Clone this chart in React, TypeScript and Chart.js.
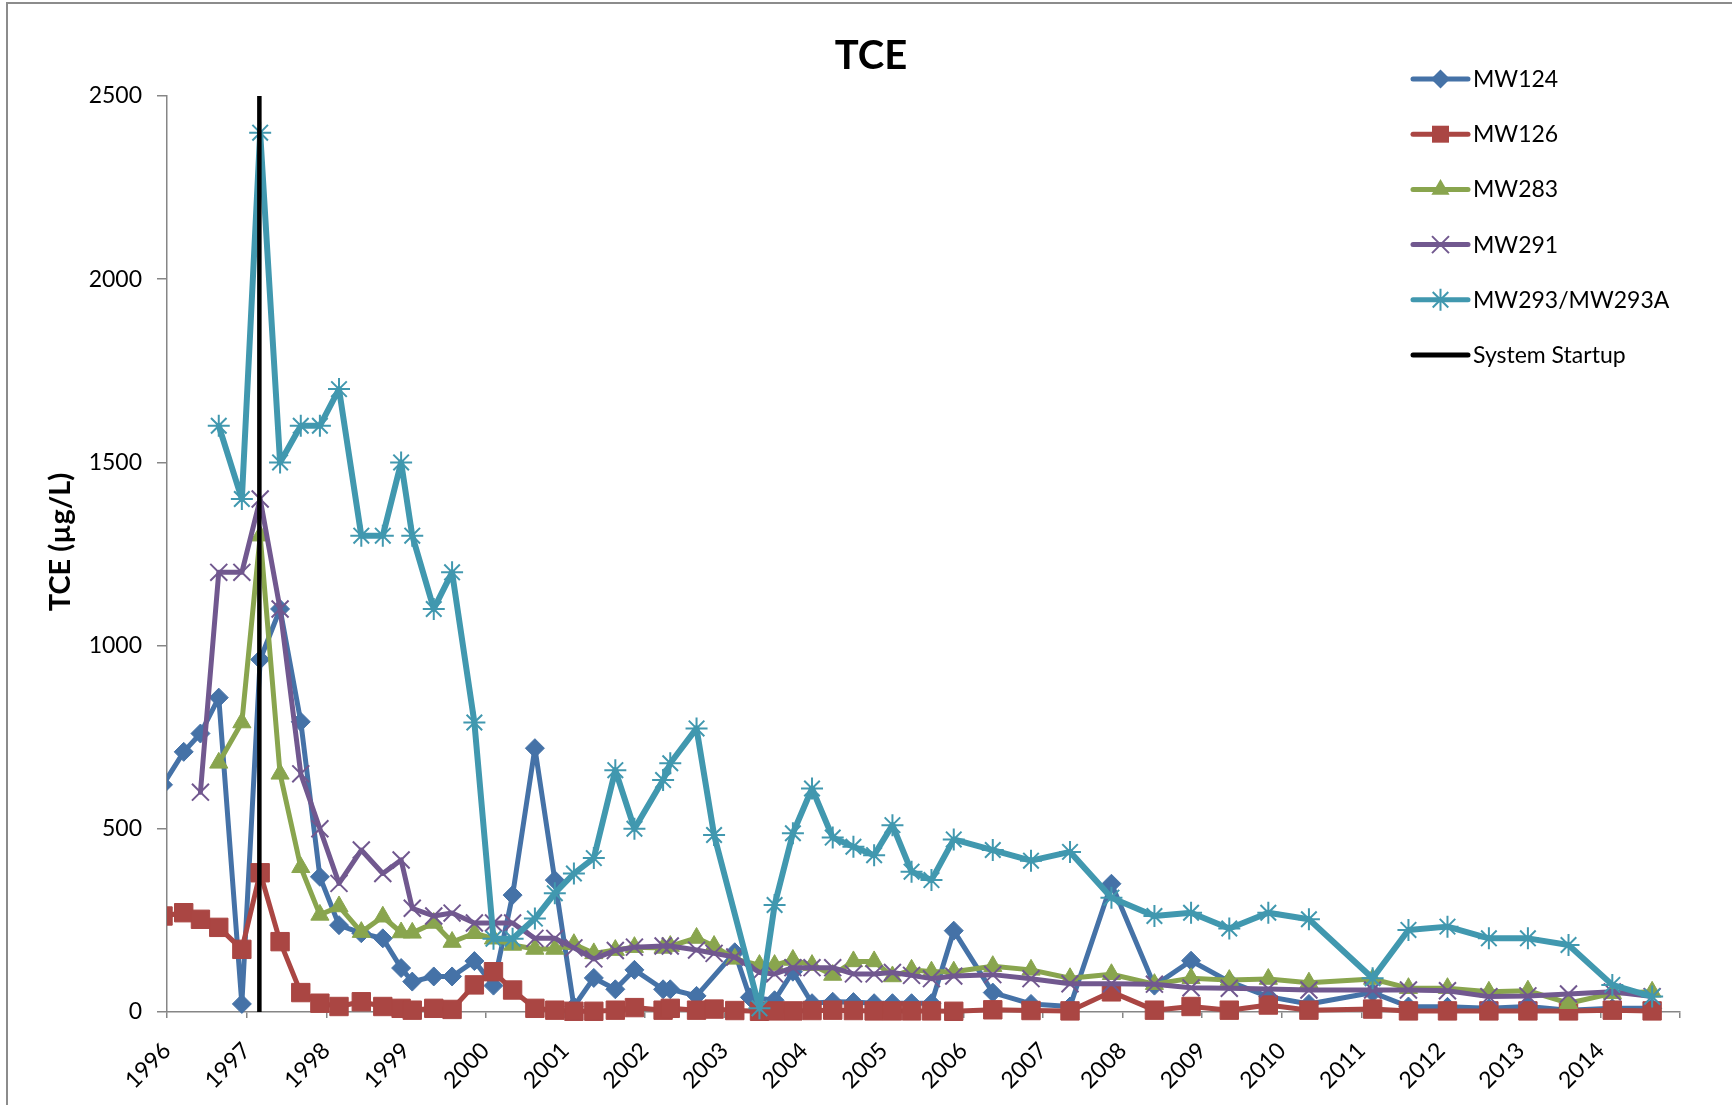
import React, { useEffect, useRef } from 'react';
import { Chart, registerables } from 'chart.js';

Chart.register(...registerables);

const FONT = 'Lato, "Open Sans", sans-serif';

// Sampling dates (decimal years)
const dates = [
  1995.95, 1996.21, 1996.42, 1996.65, 1996.94, 1997.17, 1997.42, 1997.68, 1997.92, 1998.16,
  1998.44, 1998.71, 1998.94, 1999.08, 1999.35, 1999.58, 1999.86, 2000.10, 2000.34, 2000.62,
  2000.87, 2001.11, 2001.36, 2001.63, 2001.87, 2002.23, 2002.32, 2002.65, 2002.87, 2003.13,
  2003.32, 2003.44, 2003.63, 2003.86, 2004.10, 2004.36, 2004.62, 2004.88, 2005.11, 2005.35,
  2005.60, 2005.88, 2006.37, 2006.85, 2007.34, 2007.86, 2008.40, 2008.86, 2009.34, 2009.83,
  2010.34, 2011.14, 2011.59, 2012.08, 2012.60, 2013.09, 2013.60, 2014.15, 2014.65,
];

const mw124 = [
  620, 710, 760, 858, 22, 962, 1100, 792, 369, 237,
  215, 201, 120, 83, 97, 97, 139, 72, 319, 720,
  360, 15, 93, 62, 115, 62, 62, 44, null, 163,
  40, null, 32, 110, 24, 28, 27, 24, 24, 24,
  24, 222, 53, 22, 15, 350, 72, 140, 83, 42,
  22, 53, 15, 14, 10, 15, 5, 10, 10,
];

const mw126 = [
  262, 271, 253, 231, 171, 380, 192, 53, 24, 15,
  28, 15, 10, 5, 10, 7, 74, 110, 60, 10,
  5, 2, 2, 5, 12, 5, 10, 5, 8, 4,
  null, 2, 3, 3, 4, 5, 4, 3, 3, 3,
  3, 2, 6, 4, 3, 55, 5, 15, 5, 19,
  5, 8, 3, 3, 3, 3, 3, 5, 3,
];

const mw283 = [
  null, null, null, 680, 790, 1300, 650, 395, 265, 288,
  218, 260, 217, 216, 243, 191, 215, 200, 183, 172,
  172, 185, 160, 169, 177, 175, 180, 202, 180, 145,
  null, 128, 128, 142, 128, 101, 138, 138, 97, 115,
  110, 110, 125, 115, 92, 103, 76, 92, 87, 90,
  80, 90, 65, 65, 55, 58, 24, 51, 55,
];

const mw291 = [
  null, null, 600, 1200, 1200, 1400, 1100, 650, 500, 351,
  442, 378, 415, 283, 262, 270, 243, 243, 243, 201,
  201, 175, 145, 168, 177, 180, 180, 169, 160, 150,
  null, 108, 104, 121, 121, 121, 104, 104, 108, 100,
  91, 98, 102, 91, 77, 77, 76, 66, 65, 63,
  60, 60, 60, 58, 42, 44, 49, 55, 42,
];

const mw293 = [
  null, null, null, 1600, 1400, 2400, 1500, 1600, 1600, 1700,
  1300, 1300, 1500, 1300, 1100, 1200, 790, 200, 200, 255,
  324, 378, 420, 660, 500, 633, 679, 774, 483, null,
  null, 10, 292, 488, 610, 476, 451, 428, 510, 383,
  360, 471, 442, 413, 437, 312, 262, 271, 228, 271,
  253, 92, 224, 233, 201, 201, 183, 74, 42,
];

const seriesNames = ['MW124', 'MW126', 'MW283', 'MW291', 'MW293/MW293A'];
const seriesColors = ['#4572A7', '#AA4643', '#89A54E', '#71588F', '#4198AF'];
const seriesMarkers = ['rectRot', 'rect', 'triangle', 'crossRot', 'star'];
const markerRadii = [9.5, 13, 10.5, 12, 11];
const lineWidths = [5, 5, 5, 5, 6];

const startupLabel = 'System Startup';
const startupDate = 1997.16;

const chartTitle = 'TCE';
const yAxisTitle = 'TCE (µg/L)';

const xMin = 1996;
const xMax = 2015;
const yMin = 0;
const yMax = 2500;
const yStep = 500;
const xTickLabels = [
  '1996', '1997', '1998', '1999', '2000', '2001', '2002', '2003', '2004', '2005',
  '2006', '2007', '2008', '2009', '2010', '2011', '2012', '2013', '2014',
];

function drawMarker(ctx: CanvasRenderingContext2D, style: string, x: number, y: number, r: number, color: string) {
  ctx.save();
  ctx.fillStyle = color;
  ctx.strokeStyle = color;
  ctx.lineWidth = 2;
  ctx.beginPath();
  if (style === 'rectRot') {
    ctx.moveTo(x, y - r);
    ctx.lineTo(x + r, y);
    ctx.lineTo(x, y + r);
    ctx.lineTo(x - r, y);
    ctx.closePath();
    ctx.fill();
  } else if (style === 'rect') {
    const h = Math.SQRT1_2 * r;
    ctx.rect(x - h, y - h, 2 * h, 2 * h);
    ctx.fill();
  } else if (style === 'triangle') {
    const a = (2 * Math.PI) / 3;
    ctx.moveTo(x, y - r);
    ctx.lineTo(x + Math.sin(a) * r, y - Math.cos(a) * r);
    ctx.lineTo(x + Math.sin(2 * a) * r, y - Math.cos(2 * a) * r);
    ctx.closePath();
    ctx.fill();
  } else if (style === 'crossRot' || style === 'star') {
    const d = Math.SQRT1_2 * r;
    ctx.moveTo(x - d, y - d);
    ctx.lineTo(x + d, y + d);
    ctx.moveTo(x - d, y + d);
    ctx.lineTo(x + d, y - d);
    if (style === 'star') {
      ctx.moveTo(x, y - r);
      ctx.lineTo(x, y + r);
      ctx.moveTo(x - r, y);
      ctx.lineTo(x + r, y);
    }
    ctx.stroke();
  }
  ctx.restore();
}

const overlayPlugin = {
  id: 'overlayPlugin',
  afterDraw(chart: any) {
    const ctx: CanvasRenderingContext2D = chart.ctx;
    ctx.save();
    // outer chart border
    ctx.strokeStyle = '#8c8c8c';
    ctx.lineWidth = 2;
    ctx.strokeRect(7, 3, 4000, 4000);

    // title
    ctx.fillStyle = '#000';
    ctx.font = `bold 40px ${FONT}`;
    ctx.textAlign = 'center';
    ctx.textBaseline = 'alphabetic';
    ctx.fillText(chartTitle, 871, 69);

    // y-axis title
    ctx.save();
    ctx.translate(61, 542);
    ctx.rotate(-Math.PI / 2);
    ctx.font = `bold 29px ${FONT}`;
    ctx.textAlign = 'center';
    ctx.textBaseline = 'middle';
    ctx.fillText(yAxisTitle, 0, 0);
    ctx.restore();

    // legend
    const entries = seriesNames.map((n, i) => ({ name: n, color: seriesColors[i], marker: seriesMarkers[i], r: Math.min(markerRadii[i], 12) }));
    entries.push({ name: startupLabel, color: '#000000', marker: 'none', r: 0 });
    const x0 = 1413;
    const x1 = 1468;
    entries.forEach((e, i) => {
      const y = 79 + i * 55.2;
      ctx.save();
      ctx.strokeStyle = e.color;
      ctx.lineWidth = 5;
      ctx.lineCap = 'round';
      ctx.beginPath();
      ctx.moveTo(x0, y);
      ctx.lineTo(x1, y);
      ctx.stroke();
      ctx.restore();
      if (e.marker !== 'none') drawMarker(ctx, e.marker, (x0 + x1) / 2, y, e.r, e.color);
      ctx.fillStyle = '#000';
      ctx.font = `23px ${FONT}`;
      ctx.textAlign = 'left';
      ctx.textBaseline = 'alphabetic';
      ctx.fillText(e.name, 1473, y + 8);
    });
    ctx.restore();
  },
};

export default function App() {
  const canvasRef = useRef<HTMLCanvasElement | null>(null);

  useEffect(() => {
    const canvas = canvasRef.current;
    if (!canvas) return;
    const series = [mw124, mw126, mw283, mw291, mw293];
    const seriesDatasets = series.map((vals, i) => ({
      type: 'line' as const,
      label: seriesNames[i],
      data: dates.map((d, k) => ({ x: d, y: vals[k] })),
      borderColor: seriesColors[i],
      backgroundColor: seriesColors[i],
      borderWidth: lineWidths[i],
      borderJoinStyle: 'round' as const,
      borderCapStyle: 'round' as const,
      pointStyle: seriesMarkers[i],
      pointRadius: markerRadii[i],
      pointHoverRadius: markerRadii[i],
      pointBackgroundColor: seriesColors[i],
      pointBorderColor: seriesColors[i],
      pointBorderWidth: i >= 3 ? 2 : 1,
      spanGaps: true,
      tension: 0,
      order: 5 - i,
      clip: { left: 0, top: false, right: false, bottom: false } as any,
    }));
    const startupDataset = {
      type: 'line' as const,
      label: startupLabel,
      data: [
        { x: startupDate, y: yMin },
        { x: startupDate, y: yMax },
      ],
      borderColor: '#000000',
      backgroundColor: '#000000',
      borderWidth: 4.5,
      pointRadius: 0,
      order: 0,
      clip: false as any,
    };

    const axisGrey = '#868686';
    const chart = new Chart(canvas, {
      type: 'line',
      data: { datasets: [...seriesDatasets, startupDataset] as any },
      options: {
        animation: false,
        responsive: false,
        devicePixelRatio: 1,
        events: [],
        layout: { padding: { top: 96, right: 52, left: 0, bottom: 0 } },
        plugins: {
          legend: { display: false },
          title: { display: false },
          tooltip: { enabled: false },
        },
        scales: {
          x: {
            type: 'linear',
            min: xMin,
            max: xMax,
            afterFit: (s: any) => {
              s.height = 93;
            },
            ticks: {
              stepSize: 1,
              autoSkip: false,
              maxRotation: 45,
              minRotation: 45,
              padding: 19,
              color: '#000',
              font: { family: FONT, size: 23 },
              callback: (v: any) => {
                const idx = Math.round(Number(v)) - xMin;
                return xTickLabels[idx] ?? '';
              },
            },
            grid: {
              display: true,
              drawOnChartArea: false,
              drawTicks: true,
              tickLength: 6,
              color: axisGrey,
              lineWidth: 1.5,
            },
            border: { display: true, color: axisGrey, width: 1.5 },
          },
          y: {
            type: 'linear',
            min: yMin,
            max: yMax,
            afterFit: (s: any) => {
              s.width = 167;
            },
            ticks: {
              stepSize: yStep,
              padding: 15,
              color: '#000',
              font: { family: FONT, size: 23 },
              callback: (v: any) => String(Math.round(Number(v))),
            },
            grid: {
              display: true,
              drawOnChartArea: false,
              drawTicks: true,
              tickLength: 10,
              color: axisGrey,
              lineWidth: 1.5,
            },
            border: { display: true, color: axisGrey, width: 1.5 },
          },
        },
      },
      plugins: [overlayPlugin],
    });
    return () => chart.destroy();
  }, []);

  return (
    <div style={{ position: 'absolute', left: 0, top: 0, width: 1732, height: 1105, background: '#fff' }}>
      <canvas ref={canvasRef} width={1732} height={1105} style={{ width: 1732, height: 1105, display: 'block' }} />
    </div>
  );
}
